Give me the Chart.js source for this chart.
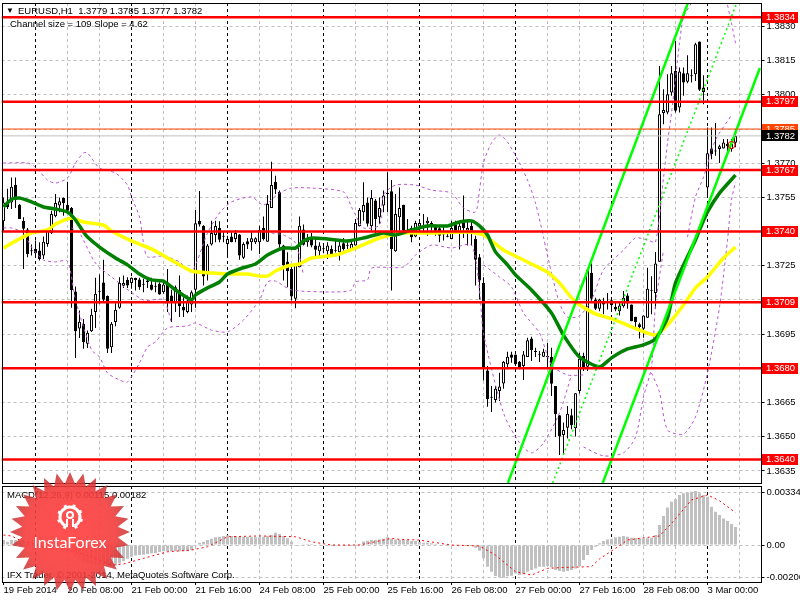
<!DOCTYPE html>
<html lang="en">
<head>
<meta charset="UTF-8">
<title>EURUSD,H1</title>
<script src="https://cdn.jsdelivr.net/npm/chart.js"></script>
<style>
  html, body { margin: 0; padding: 0; background: #fff; }
  #wrap { position: relative; width: 800px; height: 600px; overflow: hidden; font-family: "Liberation Sans", sans-serif; font-size: 9.5px; color: #000; }
  canvas { position: absolute; left: 0; }
  #priceChart { top: 0; }
  #macdChart { top: 484px; }
  #logo { top: 0; pointer-events: none; }
  .lbl { position: absolute; white-space: pre; line-height: 13px; }
</style>
</head>
<body>
<div id="wrap">
  <canvas id="priceChart" width="800" height="484"></canvas>
  <canvas id="macdChart" width="800" height="116"></canvas>
  <div class="lbl" style="left:6px;top:4px;font-size:8px">▼</div>
  <div class="lbl" style="left:18px;top:4px">EURUSD,H1  1.3779 1.3785 1.3777 1.3782</div>
  <div class="lbl" style="left:10px;top:17px">Channel size = 109 Slope = 4.62</div>
  <div class="lbl" style="left:7px;top:488px">MACD(12,26,9) 0.00115 0.00182</div>
  <div class="lbl" style="left:7px;top:568px">IFX Trader, © 2001-2014, MetaQuotes Software Corp.</div>
  <canvas id="logo" width="800" height="600"></canvas>
</div>
<script>
const barCount = 190; // 184 candles + empty space on the right

const opens = [
  1.37445,1.37528,1.37528,1.37606,1.37518,1.37448,1.37409,1.37314,1.37324,1.37317,
  1.37295,1.37346,1.37393,1.37467,1.37514,1.37547,1.37518,1.37504,1.37137,1.36975,
  1.36996,1.36908,1.36963,1.37047,1.37138,1.37177,1.37118,1.36893,1.37003,1.37066,
  1.37162,1.37188,1.37175,1.37188,1.37190,1.37168,1.37185,1.37168,1.37159,1.37171,
  1.37134,1.37177,1.37120,1.37086,1.37145,1.37069,1.37047,1.37080,1.37145,1.37448,
  1.37426,1.37212,1.37343,1.37385,1.37416,1.37379,1.37346,1.37378,1.37368,1.37387,
  1.37285,1.37358,1.37353,1.37353,1.37353,1.37416,1.37356,1.37504,1.37619,1.37575,
  1.37339,1.37269,1.37236,1.37105,1.37244,1.37409,1.37353,1.37368,1.37339,1.37314,
  1.37325,1.37314,1.37324,1.37318,1.37309,1.37349,1.37340,1.37321,1.37339,1.37423,
  1.37485,1.37528,1.37423,1.37536,1.37463,1.37514,1.37566,1.37577,1.37314,1.37463,
  1.37518,1.37393,1.37416,1.37378,1.37422,1.37417,1.37437,1.37438,1.37422,1.37415,
  1.37397,1.37379,1.37368,1.37431,1.37393,1.37441,1.37404,1.37426,1.37368,1.37288,
  1.37175,1.36791,1.36672,1.36661,1.36701,1.36734,1.36818,1.36861,1.36861,1.36829,
  1.36810,1.36850,1.36931,1.36874,1.36862,1.36851,1.36852,1.36851,1.36723,1.36594,
  1.36508,1.36539,1.36594,1.36537,1.36701,1.36854,1.36807,1.37219,1.37102,1.37061,
  1.37092,1.37091,1.37099,1.37070,1.37051,1.37073,1.37120,1.37080,1.37026,1.36993,
  1.36974,1.37022,1.37142,1.37131,1.37268,1.37920,1.37923,1.38010,1.38105,1.37944,
  1.38095,1.38058,1.38084,1.38090,1.38234,1.38032,1.37594,1.37765,1.37753,1.37762,
  1.37765,1.37784,1.37762,1.3779
];
const highs = [
  1.37550,1.37588,1.37637,1.37637,1.37521,1.37463,1.37416,1.37343,1.37361,1.37353,
  1.37378,1.37416,1.37492,1.37565,1.37550,1.37550,1.37619,1.37508,1.37159,1.37054,
  1.37017,1.36966,1.37061,1.37197,1.37212,1.37276,1.37120,1.37003,1.37086,1.37200,
  1.37207,1.37200,1.37200,1.37197,1.37197,1.37193,1.37197,1.37197,1.37178,1.37178,
  1.37178,1.37236,1.37145,1.37163,1.37207,1.37112,1.37120,1.37142,1.37495,1.37578,
  1.37428,1.37346,1.37448,1.37448,1.37445,1.37397,1.37382,1.37397,1.37407,1.37390,
  1.37353,1.37372,1.37397,1.37375,1.37426,1.37466,1.37561,1.37707,1.37645,1.37580,
  1.37342,1.37309,1.37258,1.37258,1.37466,1.37431,1.37390,1.37394,1.37368,1.37353,
  1.37349,1.37353,1.37339,1.37361,1.37361,1.37372,1.37364,1.37358,1.37455,1.37504,
  1.37616,1.37550,1.37583,1.37543,1.37550,1.37580,1.37660,1.37626,1.37565,1.37594,
  1.37518,1.37455,1.37426,1.37448,1.37455,1.37477,1.37463,1.37445,1.37431,1.37426,
  1.37426,1.37404,1.37448,1.37448,1.37441,1.37558,1.37448,1.37448,1.37382,1.37302,
  1.37200,1.36810,1.36723,1.36723,1.36781,1.36832,1.36873,1.36873,1.36861,1.36832,
  1.36876,1.36934,1.36939,1.36890,1.36876,1.36886,1.36912,1.36890,1.36723,1.36594,
  1.36562,1.36635,1.36623,1.36691,1.36869,1.36869,1.37231,1.37260,1.37110,1.37105,
  1.37110,1.37131,1.37110,1.37088,1.37091,1.37139,1.37129,1.37080,1.37026,1.37000,
  1.37032,1.37241,1.37204,1.37310,1.38127,1.38025,1.38090,1.38127,1.38236,1.38120,
  1.38120,1.38174,1.38112,1.38229,1.38234,1.38086,1.37857,1.37857,1.37876,1.37781,
  1.37806,1.37806,1.37806,1.3785
];
const lows = [
  1.37400,1.37499,1.37499,1.37504,1.37455,1.37236,1.37288,1.37295,1.37295,1.37273,
  1.37280,1.37334,1.37390,1.37463,1.37485,1.37470,1.37477,1.37066,1.36845,1.36933,
  1.36886,1.36889,1.36959,1.36977,1.37083,1.37090,1.36867,1.36867,1.36985,1.37061,
  1.37153,1.37153,1.37149,1.37142,1.37145,1.37134,1.37153,1.37142,1.37134,1.37123,
  1.37127,1.37047,1.37003,1.37047,1.37025,1.37025,1.37042,1.37047,1.37066,1.37422,
  1.37163,1.37185,1.37339,1.37353,1.37353,1.37353,1.37288,1.37353,1.37353,1.37276,
  1.37280,1.37324,1.37317,1.37346,1.37302,1.37361,1.37356,1.37504,1.37565,1.37327,
  1.37185,1.37156,1.37098,1.37064,1.37244,1.37339,1.37334,1.37331,1.37280,1.37288,
  1.37305,1.37280,1.37290,1.37308,1.37273,1.37317,1.37324,1.37321,1.37339,1.37422,
  1.37448,1.37422,1.37404,1.37393,1.37434,1.37485,1.37485,1.37142,1.37312,1.37404,
  1.37390,1.37390,1.37353,1.37375,1.37390,1.37400,1.37382,1.37404,1.37382,1.37353,
  1.37361,1.37375,1.37368,1.37397,1.37321,1.37372,1.37339,1.37339,1.37163,1.37102,
  1.36747,1.36631,1.36609,1.36650,1.36657,1.36711,1.36796,1.36825,1.36818,1.36796,
  1.36749,1.36850,1.36832,1.36850,1.36828,1.36850,1.36803,1.36679,1.36499,1.36420,
  1.36420,1.36492,1.36533,1.36501,1.36690,1.36788,1.36788,1.37088,1.37056,1.37051,
  1.37037,1.37058,1.37056,1.37051,1.37032,1.37066,1.37061,1.37007,1.36971,1.36931,
  1.36934,1.37022,1.37037,1.37061,1.37268,1.37871,1.37915,1.37996,1.37923,1.37923,
  1.37996,1.38051,1.38054,1.38061,1.38017,1.37959,1.37558,1.37718,1.37733,1.37701,
  1.37765,1.37744,1.37750,1.3777
];
const closes = [
  1.37528,1.37507,1.37597,1.37540,1.37455,1.37412,1.37302,1.37314,1.37305,1.37280,
  1.37356,1.37407,1.37477,1.37526,1.37533,1.37524,1.37492,1.37144,1.36963,1.37004,
  1.36915,1.36956,1.37035,1.37127,1.37136,1.37101,1.36886,1.36996,1.37057,1.37175,
  1.37174,1.37163,1.37197,1.37196,1.37156,1.37167,1.37178,1.37145,1.37158,1.37124,
  1.37168,1.37095,1.37095,1.37156,1.37073,1.37054,1.37098,1.37134,1.37437,1.37431,
  1.37203,1.37339,1.37394,1.37425,1.37364,1.37377,1.37368,1.37353,1.37394,1.37295,
  1.37346,1.37343,1.37371,1.37371,1.37407,1.37368,1.37521,1.37604,1.37585,1.37343,
  1.37251,1.37226,1.37115,1.37254,1.37426,1.37342,1.37368,1.37339,1.37320,1.37339,
  1.37323,1.37339,1.37302,1.37316,1.37339,1.37324,1.37338,1.37346,1.37438,1.37495,
  1.37517,1.37434,1.37547,1.37455,1.37504,1.37558,1.37565,1.37324,1.37477,1.37504,
  1.37404,1.37407,1.37375,1.37438,1.37438,1.37415,1.37448,1.37422,1.37404,1.37382,
  1.37387,1.37377,1.37416,1.37401,1.37426,1.37416,1.37416,1.37393,1.37276,1.37185,
  1.36800,1.36664,1.36671,1.36711,1.36720,1.36829,1.36851,1.36847,1.36818,1.36800,
  1.36861,1.36923,1.36880,1.36872,1.36860,1.36873,1.36850,1.36733,1.36599,1.36501,
  1.36530,1.36601,1.36550,1.36691,1.36842,1.36799,1.37231,1.37105,1.37061,1.37102,
  1.37080,1.37090,1.37077,1.37058,1.37076,1.37110,1.37085,1.37007,1.37003,1.36981,
  1.37032,1.37149,1.37141,1.37260,1.37915,1.37933,1.38003,1.38095,1.37930,1.38102,
  1.38054,1.38095,1.38082,1.38222,1.38022,1.38013,1.37744,1.37740,1.37751,1.37774,
  1.37791,1.37774,1.37784,1.3782
];

const greenIdx = [0,2,4,7,10,13,16,18,20,21,24,28,31,34,37,40,43,47,48,51,54,56,59,63,66,70,73,75,77,81,86,90,95,98,102,106,111,114,117,119,121,123,126,128,132,137,140,144,149,152,156,160,163,166,168,173,174,176,179,183];
const greenVals = [1.37508,1.37542,1.37547,1.3753,1.37508,1.37499,1.37486,1.37451,1.37398,1.37376,1.37332,1.37284,1.37254,1.37214,1.37188,1.37183,1.37144,1.371,1.37122,1.37153,1.37179,1.37214,1.37236,1.37258,1.37297,1.37328,1.37328,1.37359,1.37372,1.37368,1.37359,1.37372,1.37394,1.37385,1.37407,1.37425,1.37425,1.37442,1.37447,1.37425,1.37385,1.37311,1.37254,1.3721,1.37144,1.37043,1.36946,1.3685,1.36806,1.36846,1.36885,1.36903,1.36929,1.37021,1.37175,1.37363,1.37407,1.37486,1.37569,1.37648];
const yellowIdx = [0,4,7,11,13,17,20,25,27,32,37,42,47,52,56,61,64,66,68,71,74,77,83,88,94,100,104,108,116,120,125,129,135,136,139,143,148,153,157,163,166,170,173,176,180,183];
const yellowVals = [1.37328,1.37368,1.37394,1.37407,1.37433,1.3746,1.37442,1.37429,1.37403,1.37359,1.37324,1.37275,1.37227,1.37218,1.37214,1.37214,1.37205,1.37205,1.37227,1.37249,1.37258,1.37284,1.37297,1.37328,1.37372,1.37394,1.37394,1.37394,1.37398,1.37385,1.37319,1.37284,1.37232,1.37223,1.37175,1.37091,1.37039,1.37012,1.36982,1.36946,1.3699,1.37078,1.37153,1.37201,1.37284,1.37332];

// dashed purple bands, null = line leaves the window
const bandUpperIdx = [0,6,8,11,13,16,18,20,21,24,28,31,32,34,35,36,40,44,47,51,54,57,62,65,69,72,77,85,87,88,90,94,95,98,103,107,112,115,118,119,120,122,124,126,129,131,133,135,137,139,141,144,147,150,155,158,161,163,165,166,167,169,170,172,176,181,182,183];
const bandUpperVals = [1.37701,1.37701,1.37683,1.37626,1.37613,1.37635,1.37701,1.37745,1.37745,1.37679,1.37657,1.37604,1.37552,1.37464,1.3735,1.37289,1.37293,1.37267,1.37223,1.37394,1.37482,1.3753,1.37552,1.37517,1.37569,1.37591,1.37591,1.37574,1.37508,1.37473,1.37416,1.37429,1.37561,1.37604,1.37604,1.37582,1.37569,1.37504,1.37486,1.37582,1.37701,1.37789,1.37824,1.37793,1.37701,1.37626,1.37525,1.37376,1.37218,1.37087,1.37025,1.3703,1.371,1.37232,1.37319,1.37372,1.37363,1.37354,1.37635,1.37789,1.3792,1.38227,1.38341,1.38403,null,1.38394,1.38315,1.38227];
const bandLowerIdx = [0,2,5,7,10,13,16,18,22,24,26,29,31,34,36,38,41,46,48,52,56,60,64,66,68,72,83,87,88,91,92,100,103,107,112,117,119,120,125,129,132,135,139,142];
const bandLowerVals = [1.37416,1.37416,1.37394,1.37332,1.37275,1.37267,1.37271,1.371,1.36881,1.3685,1.3678,1.36749,1.3674,1.36824,1.36894,1.36916,1.36977,1.36986,1.36999,1.36968,1.3696,1.37012,1.371,1.37179,1.37183,1.37144,1.37135,1.37144,1.37179,1.37188,1.3724,1.37245,1.37297,1.37341,1.37328,1.37341,1.37144,1.36955,1.36604,1.36473,1.36429,1.36473,1.36604,1.36771];
const bandCIdx = [17,19,23,27,35,40,42,45,67,70,73,75,100,120,124,127,130,134,137,141,145];
const bandCVals = [1.37416,1.37394,1.37262,1.37201,1.371,1.371,1.36999,null,1.37394,1.37385,1.3735,1.3721,null,1.37254,1.37201,1.37157,1.37043,1.36955,1.36815,1.36771,1.36771];
const bandDIdx = [145,150,155,158,160,162,163,165];
const bandDVals = [1.36455,1.36416,1.36429,1.36499,1.36675,1.36806,1.37078,1.37319];
const bandEIdx = [162,164,166,170,173,176,179,181,182,183];
const bandEVals = [1.3678,1.36696,1.3653,1.36512,1.36587,1.3678,1.37069,1.37363,1.37539,1.37618];
const bandFIdx = [171,173,175,178,182];
const bandFVals = [1.37376,1.37552,1.37639,1.37802,1.37911];

// channel lines, two ends each
const channelLeftIdx = [126.1,171.1];
const channelLeftVals = [1.36297,1.38403];
const channelRightIdx = [149.8,189.1];
const channelRightVals = [1.36297,1.38118];
const channelMidIdx = [137.3,183.3];
const channelMidVals = [1.36297,1.38403];

const levels = [1.3834,1.3797,1.3767,1.3740,1.3709,1.3680,1.3640];
const askLevel = 1.3785;
const bidLevel = 1.3782;
const priceTicks = [1.3830,1.3815,1.3800,1.3785,1.3770,1.3755,1.3740,1.3725,1.3710,1.3695,1.3680,1.3665,1.3650,1.3635];

const macdValues = [
  .00032,.00021,.00032,.00032,.00021,.00011,.00006,0,-.00006,-.00015,
  -.00021,-.00028,-.00028,-.00023,-.00023,-.00028,-.00036,-.00053,-.0007,-.00087,
  -.00104,-.00117,-.00121,-.00124,-.00126,-.0013,-.00134,-.0013,-.0013,-.00117,
  -.00104,-.00087,-.00075,-.00066,-.00064,-.00062,-.00058,-.00053,-.00051,-.00045,
  -.0004,-.0004,-.0004,-.0004,-.0004,-.0004,-.0004,-.00032,0,.00015,
  .00021,.00032,.0004,.00049,.00053,.00058,.00062,.00058,.00058,.00053,
  .00051,.00051,.00049,.00049,.00049,.00053,.00058,.00064,.00079,.0007,
  .00058,.00043,.00021,-.00006,-.00002,.00002,.00006,.00006,.00004,.00002,
  0,-.00004,-.00006,-.00006,-.00006,-.00006,-.00006,-.00004,-.00002,.00006,
  .00023,.00028,.00032,.00032,.00036,.0004,.00049,.0004,.00036,.00032,
  .00032,.00032,.00026,.00026,.00019,.00015,.00015,.00011,.00006,.00004,
  .00002,0,-.00002,-.00004,-.00004,-.00002,-.00004,-.00006,-.00017,-.00036,
  -.00085,-.00138,-.0017,-.00198,-.00206,-.00209,-.002,-.00196,-.00181,-.00192,
  -.00187,-.0017,-.00160,-.00149,-.00138,-.00138,-.00134,-.00143,-.0016,-.00166,
  -.0017,-.00166,-.0016,-.00149,-.00134,-.00096,-.00064,-.00032,-.00011,.00011,
  .00026,.00036,.0004,.00049,.00053,.00058,.00053,.00047,.00045,.00043,
  .0004,.00043,.00047,.00064,.00128,.00185,.00239,.00277,.00292,.0032,
  .0033,.00334,.00341,.00345,.0033,.0032,.00309,.00245,.00213,.00192,
  .00170,.00153,.00134,.00115
];
const signalIdx = [0,2,4,7,10,14,18,22,27,30,35,41,47,51,56,64,73,77,82,89,93,97,99,104,112,119,123,128,132,136,140,147,149,153,156,161,164,167,172,176,179,183];
const signalVals = [.00064,.00058,.00032,.00011,-.00015,-.00021,-.00043,-.00075,-.00128,-.00121,-.00085,-.00043,-.00032,-.00011,.00053,.00058,.00053,.00021,0,0,.00021,.00043,.00036,.00032,0,-.00006,-.00064,-.0017,-.00192,-.00149,-.00143,-.00138,-.00089,-.00021,.00032,.00049,.00058,.00138,.00288,.0032,.00283,.00207];

const timeLabels = ['19 Feb 2014','20 Feb 08:00','21 Feb 00:00','21 Feb 16:00','24 Feb 08:00','25 Feb 00:00','25 Feb 16:00','26 Feb 08:00','27 Feb 00:00','27 Feb 16:00','28 Feb 08:00','3 Mar 00:00'];

const FONT = '"Liberation Sans", sans-serif';
const FONT_SIZE = 9.5;
const xTicks = [];
for (let i = 0; i <= 184; i += 8) xTicks.push(i);

const toXY = (idx, vals) => idx.map((x, i) => ({ x: x, y: vals[i] }));
const lineSet = (idx, vals, color, width, extra) => Object.assign({
  type: 'line', data: toXY(idx, vals), borderColor: color, borderWidth: width,
  pointRadius: 0, tension: 0, fill: false, order: 1
}, extra || {});

// the layout must not shrink the plot for tick labels
function noPadding(s) {
  s.paddingTop = 0;
  s.paddingBottom = 0;
  s.paddingLeft = 0;
  s.paddingRight = 0;
}

function xAxis(showLabels) {
  return {
    type: 'linear', offset: false, min: -0.5, max: barCount - 0.5,
    afterBuildTicks: s => { s.ticks = xTicks.map(v => ({ value: v })); },
    afterFit: s => { s.height = showLabels ? 18 : 0; noPadding(s); },
    border: { display: false, dash: [3, 3] },
    grid: {
      offset: false, drawTicks: showLabels, tickLength: 3,
      tickColor: ctx => ctx.tick && ctx.tick.value % 16 === 0 ? '#000' : 'transparent',
      color: ctx => {
        if (!ctx.tick || ctx.tick.value === 0) return 'transparent';
        return ctx.tick.value % 24 === 8 ? '#000' : '#c0c0c0';
      }
    },
    ticks: {
      display: showLabels, autoSkip: false, maxRotation: 0, align: 'start', padding: 0,
      color: '#000', font: { family: FONT, size: FONT_SIZE },
      callback: v => v % 16 === 0 ? timeLabels[v / 16] : ''
    }
  };
}

function yAxis(min, max, tickVals, fmt) {
  return {
    position: 'right', min: min, max: max,
    afterBuildTicks: s => { s.ticks = tickVals.map(v => ({ value: v })); },
    afterFit: s => { s.width = 38.5; noPadding(s); },
    border: { display: false, dash: [3, 3] },
    grid: { color: '#c0c0c0', tickLength: 3, tickColor: '#000' },
    ticks: { color: '#000', padding: 2, autoSkip: false, font: { family: FONT, size: FONT_SIZE }, callback: fmt }
  };
}

const framePlugin = {
  id: 'frame',
  afterDraw(chart) {
    const a = chart.chartArea, c = chart.ctx;
    const l = Math.round(a.left) + 0.5, t = Math.round(a.top) + 0.5;
    c.save();
    c.strokeStyle = '#000';
    c.lineWidth = 1;
    c.strokeRect(l, t, Math.floor(a.right) + 0.5 - l, Math.round(a.bottom) + 0.5 - t);
    c.restore();
  }
};

const tagPlugin = {
  id: 'priceTags',
  afterDraw(chart) {
    const c = chart.ctx, y = chart.scales.y;
    const tag = (val, bg) => {
      const py = y.getPixelForValue(val);
      c.fillStyle = bg;
      c.fillRect(762, Math.round(py - 5.5), 36, 11);
      c.fillStyle = '#fff';
      c.font = FONT_SIZE + 'px ' + FONT;
      c.textAlign = 'left';
      c.textBaseline = 'middle';
      c.fillText(val.toFixed(4), 766, py);
    };
    c.save();
    levels.forEach(v => tag(v, '#ff0000'));
    tag(askLevel, '#ff4500');
    tag(bidLevel, '#000000');
    c.restore();
  }
};

const priceSets = [
  {
    type: 'bar', data: opens.map((o, i) => ({ x: i, y: [lows[i], highs[i]] })),
    backgroundColor: '#000', barThickness: 1, grouped: false, inflateAmount: 0, order: 11
  },
  {
    type: 'bar', data: opens.map((o, i) => ({ x: i, y: [o, closes[i]] })),
    backgroundColor: ctx => closes[ctx.dataIndex] >= opens[ctx.dataIndex] ? '#fff' : '#000',
    borderColor: '#000', borderWidth: 1, borderSkipped: false, barThickness: 3,
    grouped: false, inflateAmount: 0, minBarLength: 1, order: 10
  }
];
[[bandUpperIdx, bandUpperVals], [bandLowerIdx, bandLowerVals], [bandCIdx, bandCVals],
 [bandDIdx, bandDVals], [bandEIdx, bandEVals], [bandFIdx, bandFVals]].forEach(b => {
  priceSets.push(lineSet(b[0], b[1], '#ba55d3', 1, { borderDash: [3, 3], tension: 0.25, order: 5 }));
});
priceSets.push(lineSet(yellowIdx, yellowVals, '#ffff00', 3.5, { tension: 0.2, order: 4 }));
priceSets.push(lineSet(greenIdx, greenVals, '#008000', 3.5, { tension: 0.2, order: 3 }));
priceSets.push(lineSet(channelLeftIdx, channelLeftVals, '#00ff00', 2.5, { order: 2 }));
priceSets.push(lineSet(channelRightIdx, channelRightVals, '#00ff00', 2.5, { order: 2 }));
priceSets.push(lineSet(channelMidIdx, channelMidVals, '#00ff00', 1.5, { borderDash: [2, 3], order: 2 }));
priceSets.push(lineSet([-0.5, barCount - 0.5], [bidLevel, bidLevel], '#c0c0c0', 1));
priceSets.push(lineSet([-0.5, barCount - 0.5], [askLevel, askLevel], '#ff4500', 1));
levels.forEach(v => priceSets.push(lineSet([-0.5, barCount - 0.5], [v, v], '#ff0000', 2.5)));
priceSets.push({
  type: 'line', showLine: false, data: [{ x: 182, y: 1.3778 }], pointRadius: 3.5,
  pointBackgroundColor: 'transparent', pointBorderColor: '#ff0000', pointBorderWidth: 1, order: 1
});

new Chart(document.getElementById('priceChart'), {
  data: { datasets: priceSets },
  options: {
    responsive: false, animation: false, devicePixelRatio: 1,
    layout: { autoPadding: false, padding: { left: 1.5, top: 3, right: 0, bottom: 1 } },
    plugins: { legend: { display: false }, tooltip: { enabled: false } },
    scales: {
      x: xAxis(false),
      y: yAxis(1.36297, 1.38403, priceTicks, v => v.toFixed(4))
    }
  },
  plugins: [framePlugin, tagPlugin]
});

new Chart(document.getElementById('macdChart'), {
  data: {
    datasets: [
      {
        type: 'bar', data: macdValues.map((v, i) => ({ x: i, y: v })),
        backgroundColor: '#c0c0c0', barThickness: 3, grouped: false, inflateAmount: 0, order: 2
      },
      lineSet(signalIdx, signalVals, '#ff0000', 1, { borderDash: [2, 3] })
    ]
  },
  options: {
    responsive: false, animation: false, devicePixelRatio: 1,
    layout: { autoPadding: false, padding: { left: 1.5, top: 2, right: 0, bottom: 0 } },
    plugins: { legend: { display: false }, tooltip: { enabled: false } },
    scales: {
      x: xAxis(true),
      y: yAxis(-0.00236, 0.00377, [0.00334, 0, -0.00206], v => v === 0 ? '0.00' : v.toFixed(5))
    }
  },
  plugins: [framePlugin]
});

// InstaForex badge on top of everything
(function drawLogo() {
  const c = document.getElementById('logo').getContext('2d');
  const cx = 70, cy = 532, spikes = 28, rOut = 60, rIn = 48;
  const grad = c.createRadialGradient(cx, cy, 10, cx, cy, rOut);
  grad.addColorStop(0, 'rgba(255,70,70,0.95)');
  grad.addColorStop(0.7, 'rgba(245,60,60,0.9)');
  grad.addColorStop(1, 'rgba(190,40,40,0.8)');
  c.beginPath();
  for (let i = 0; i < spikes * 2; i++) {
    const r = i % 2 ? rIn : rOut;
    const a = -Math.PI / 2 + i * Math.PI / spikes;
    c.lineTo(cx + r * Math.cos(a), cy + r * Math.sin(a));
  }
  c.closePath();
  c.fillStyle = grad;
  c.fill();

  // gear
  const gx = 70, gy = 517;
  c.strokeStyle = '#fff';
  c.fillStyle = '#fff';
  c.lineWidth = 3;
  c.beginPath();
  c.arc(gx, gy, 10, 0.35 * Math.PI, 0.65 * Math.PI, true);
  c.stroke();
  c.lineWidth = 3;
  for (let i = 0; i < 8; i++) {
    const a = Math.PI * 0.65 + i * Math.PI * 0.24;
    c.beginPath();
    c.moveTo(gx + 10 * Math.cos(a), gy + 10 * Math.sin(a));
    c.lineTo(gx + 13 * Math.cos(a), gy + 13 * Math.sin(a));
    c.stroke();
  }
  c.lineWidth = 2;
  c.beginPath();
  c.arc(gx, gy - 2, 3, 0, Math.PI * 2);
  c.moveTo(gx - 3, gy + 10);
  c.lineTo(gx - 3, gy + 2);
  c.moveTo(gx + 3, gy + 10);
  c.lineTo(gx + 3, gy + 2);
  c.stroke();

  c.fillStyle = '#fff';
  c.font = '16px Lato, ' + FONT;
  c.textAlign = 'center';
  c.textBaseline = 'middle';
  c.fillText('InstaForex', 70, 543);
})();
</script>
</body>
</html>
